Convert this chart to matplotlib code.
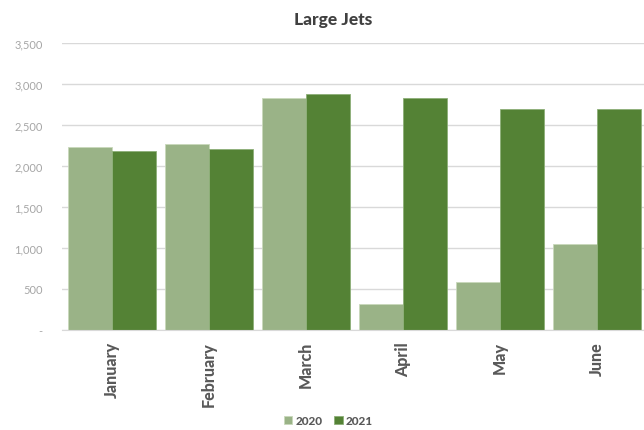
import numpy as np
import matplotlib.pyplot as plt
from matplotlib.ticker import FuncFormatter

# Monthly values per year
months = ["January", "February", "March", "April", "May", "June"]
jets_2020 = [2230, 2267, 2829, 314, 583, 1051]
jets_2021 = [2181, 2213, 2878, 2829, 2694, 2698]
years = ["2020", "2021"]
colors = ["#9AB387", "#548235"]

plt.rcParams['font.family'] = ['Lato', 'DejaVu Sans']

fig = plt.figure(figsize=(6.44, 4.31), dpi=100)
ax = fig.add_axes([0.0963, 0.2327, 0.9037, 0.6645])

x = np.arange(len(months))
w = 0.45
ax.bar(x - w / 2, jets_2020, width=w, color=colors[0], edgecolor="#C9D8BC",
       linewidth=0.6, label=years[0], zorder=2)
ax.bar(x + w / 2, jets_2021, width=w, color=colors[1], edgecolor="#8DAF78",
       linewidth=0.6, label=years[1], zorder=2)

ax.set_xlim(-0.515, 5.485)
ax.set_ylim(0, 3500)
ax.set_yticks(np.arange(0, 3501, 500))
ax.yaxis.set_major_formatter(FuncFormatter(lambda v, p: "-" if v == 0 else f"{int(v):,}"))
ax.grid(axis="y", color="#D9D9D9", linewidth=1, zorder=0)
ax.set_axisbelow(True)
for s in ["top", "right", "left"]:
    ax.spines[s].set_visible(False)
ax.spines["bottom"].set_color("#D9D9D9")
ax.tick_params(axis="y", length=0, labelsize=8, labelcolor="#A6A6A6", pad=14)
ax.tick_params(axis="x", length=0, pad=8)
ax.set_xticks(x)
ax.set_xticklabels(months, rotation=90, fontsize=11.5, fontweight="black", color="#595959")

fig.text(0.517, 0.954, "Large Jets", ha="center", va="center", fontsize=12.5,
         fontweight="black", color="#404040")

leg = fig.legend(loc="center", bbox_to_anchor=(0.51, 0.022), ncol=2, frameon=False,
                 fontsize=8.5, handlelength=0.7, handleheight=0.7, handletextpad=0.3,
                 columnspacing=1.0)
for t in leg.get_texts():
    t.set_fontweight("black")
    t.set_color("#595959")

fig.savefig("out.png", dpi=100)
